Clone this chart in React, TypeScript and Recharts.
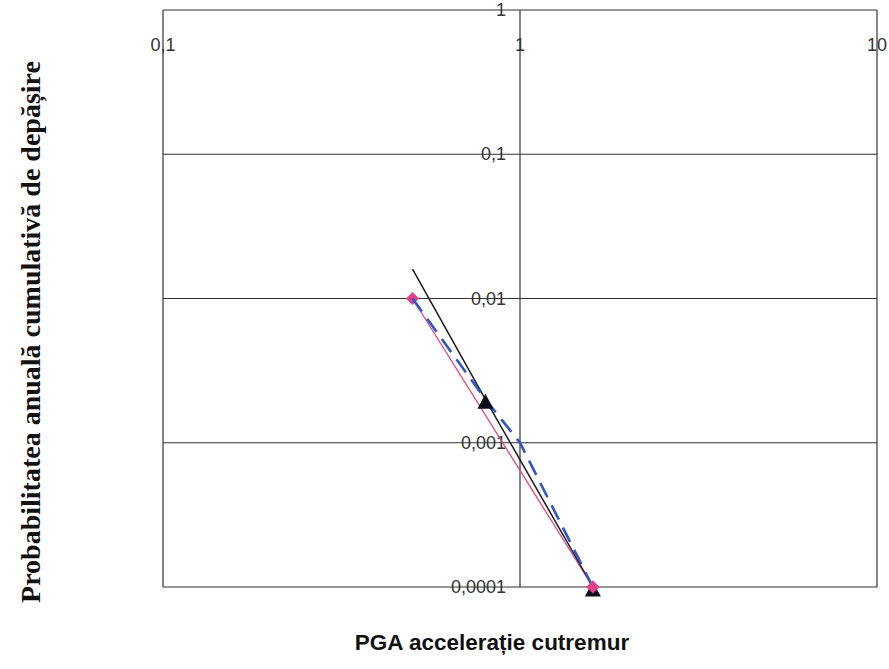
import { CartesianGrid, ReferenceDot, Scatter, ScatterChart, XAxis, YAxis } from "recharts";

// log-log axes
const xTicks = [0.1, 1, 10];
const xTickLabels = ["0,1", "1", "10"];
const yTicks = [0.0001, 0.001, 0.01, 0.1, 1];
const yTickLabels = ["0,0001", "0,001", "0,01", "0,1", "1"];

// pink series (diamonds)
const pinkX = [0.5, 1.6];
const pinkY = [0.01, 0.0001];

// blue dashed series
const blueX = [0.5, 0.8, 1.0, 1.6];
const blueY = [0.01, 0.002, 0.001, 0.0001];

// black trend line
const blackX = [0.5, 0.8, 1.6];
const blackY = [0.016, 0.002, 0.0001];

// black triangle markers
const triX = [0.8, 1.6];
const triY = [0.002, 0.0001];

const zip = (xs: number[], ys: number[]) => xs.map((x, i) => ({ x, y: ys[i] }));

const NoDot = () => <g />;

const Diamond = (props: any) => {
    const { cx, cy } = props;
    const r = 6.5;
    return <polygon points={`${cx},${cy - r} ${cx + r},${cy} ${cx},${cy + r} ${cx - r},${cy}`} fill="#e4418a" />;
};

const Triangle = (props: any) => {
    const { cx, cy } = props;
    const h = 15;
    const w = 16;
    return (
        <polygon
            points={`${cx},${cy - h / 2 + 2} ${cx + w / 2},${cy + h / 2 + 2} ${cx - w / 2},${cy + h / 2 + 2}`}
            fill="#0d0d1a"
        />
    );
};

const font = "Arial, 'Liberation Sans', sans-serif";

const xTickText = (text: string) => (p: any) =>
    (
        <text x={p.cx} y={p.cy + 41} textAnchor="middle" fontFamily={font} fontSize={18} fill="#333">
            {text}
        </text>
    );

const yTickText = (text: string) => (p: any) =>
    (
        <text x={p.cx - 14} y={p.cy + 6} textAnchor="end" fontFamily={font} fontSize={18} fill="#333">
            {text}
        </text>
    );

export default function App() {
    return (
        <div style={{ position: "absolute", left: 0, top: 0, width: 889, height: 669, background: "#fff" }}>
            <ScatterChart
                width={889}
                height={669}
                margin={{ top: 10, right: 12, bottom: 82, left: 163 }}
            >
                <XAxis dataKey="x" type="number" scale="log" domain={[0.1, 10]} ticks={xTicks} hide />
                <YAxis dataKey="y" type="number" scale="log" domain={[0.0001, 1]} ticks={yTicks} hide />
                <CartesianGrid stroke="#333" strokeWidth={1.2} />
                {xTicks.map((v, i) => (
                    <ReferenceDot key={"xt" + v} x={v} y={1} shape={xTickText(xTickLabels[i])} />
                ))}
                {yTicks.map((v, i) => (
                    <ReferenceDot key={"yt" + v} x={1} y={v} shape={yTickText(yTickLabels[i])} />
                ))}
                <Scatter
                    data={zip(pinkX, pinkY)}
                    shape={Diamond}
                    line={{ stroke: "#e0457f", strokeWidth: 1.3 }}
                    isAnimationActive={false}
                />
                <Scatter
                    data={zip(blackX, blackY)}
                    shape={NoDot}
                    line={{ stroke: "#1a1a1a", strokeWidth: 1.5 }}
                    isAnimationActive={false}
                />
                <Scatter
                    data={zip(blueX, blueY)}
                    shape={NoDot}
                    line={{ stroke: "#2f55c8", strokeWidth: 2.6, strokeDasharray: "16 9" }}
                    isAnimationActive={false}
                />
                <Scatter data={zip(triX, triY)} shape={Triangle} isAnimationActive={false} />
                <Scatter data={zip(pinkX.slice(1), pinkY.slice(1))} shape={Diamond} isAnimationActive={false} />
            </ScatterChart>
            <div
                style={{
                    position: "absolute",
                    left: 0,
                    width: 984,
                    top: 630,
                    textAlign: "center",
                    fontFamily: font,
                    fontWeight: "bold",
                    fontSize: 22.5,
                    color: "#111",
                }}
            >
                PGA accelerație cutremur
            </div>
            <div
                style={{
                    position: "absolute",
                    left: 31,
                    top: 332,
                    transform: "translate(-50%, -50%) rotate(-90deg)",
                    whiteSpace: "nowrap",
                    fontFamily: "'Liberation Serif', 'Times New Roman', serif",
                    fontWeight: "bold",
                    fontSize: 28,
                    color: "#111",
                }}
            >
                Probabilitatea anuală cumulativă de depășire
            </div>
        </div>
    );
}
